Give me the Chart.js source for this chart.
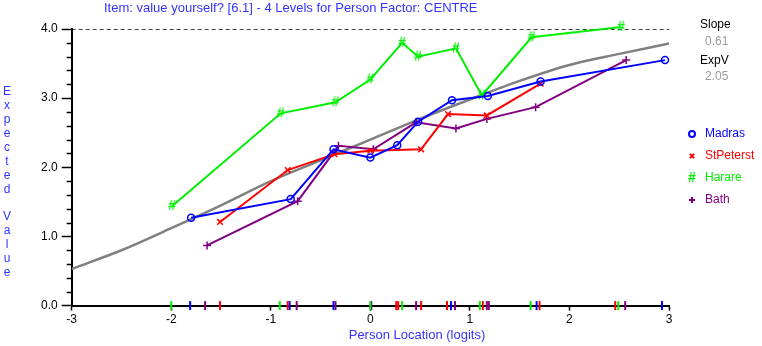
<!DOCTYPE html>
<html>
<head>
<meta charset="utf-8">
<script src="https://cdn.jsdelivr.net/npm/chart.js@4.4.0/dist/chart.umd.min.js"></script>
<style>
  html, body { margin: 0; padding: 0; background: #fff; }
</style>
</head>
<body>
<canvas id="iccChart" width="762" height="346"></canvas>
<script>
const titleText = "Item: value yourself? [6.1] - 4 Levels for Person Factor: CENTRE";
const slopeValue = "0.61";
const expValue = "2.05";
const xTicks = [-3, -2, -1, 0, 1, 2, 3];
const yTicks = [0, 1, 2, 3, 4];
const maxScore = 4;

// class interval means per group (location in logits, observed mean)
const madrasX = [-1.80, -0.80, -0.37, 0.00, 0.27, 0.48, 0.82, 1.18, 1.71, 2.96];
const madrasY = [1.27, 1.54, 2.26, 2.14, 2.32, 2.66, 2.97, 3.03, 3.24, 3.55];
const stpeteX = [-1.51, -0.83, -0.36, 0.00, 0.51, 0.78, 1.17, 1.71];
const stpeteY = [1.21, 1.96, 2.19, 2.24, 2.26, 2.77, 2.75, 3.21];
const harareX = [-1.99, -0.90, -0.35, 0.00, 0.32, 0.48, 0.86, 1.12, 1.62, 2.52];
const harareY = [1.44, 2.78, 2.94, 3.27, 3.80, 3.60, 3.72, 3.04, 3.88, 4.03];
const bathX = [-1.64, -0.73, -0.32, 0.03, 0.46, 0.86, 1.17, 1.66, 2.57];
const bathY = [0.87, 1.51, 2.31, 2.26, 2.65, 2.56, 2.70, 2.87, 3.55];

// expected value curve (grey)
const curveX = [-3, -2.5, -2, -1.5, -1, -0.5, 0, 0.5, 1, 1.5, 2, 2.5, 3];
const curveY = [0.53, 0.80, 1.12, 1.45, 1.80, 2.10, 2.40, 2.70, 2.98, 3.25, 3.48, 3.64, 3.79];

// rug marks along the x axis
const rugMadras = [-1.81, -0.81, -0.37, 0.81, 1.67, 2.93];
const rugStpete = [-1.51, -0.83, 0.26, 0.28, 0.51, 0.77, 1.13, 1.70, 2.46];
const rugHarare = [-2.00, -0.91, 0.00, 0.32, 1.10, 1.61, 2.49];
const rugBath = [-1.66, -0.74, -0.35, 0.01, 0.46, 0.85, 1.17, 1.19, 2.56];

const FONT = "Arial, 'Liberation Sans', sans-serif";
const BLUE = "#0000ff", RED = "#ff0000", GREEN = "#00ee00", PURPLE = "#800080";

function pts(xs, ys) {
  return xs.map((x, i) => ({ x: x, y: ys[i] }));
}
function rug(xs) {
  return xs.map(x => ({ x: x, y: 0 }));
}

// '#' marker for Harare, chart.js has no such pointStyle
function hashMark(color) {
  const c = document.createElement("canvas");
  c.width = 12;
  c.height = 14;
  const g = c.getContext("2d");
  g.fillStyle = color;
  g.font = "bold 14px " + FONT;
  g.textAlign = "center";
  g.textBaseline = "middle";
  g.fillText("#", 6, 7.5);
  return c;
}
const hashStyle = hashMark(GREEN);

function groupSet(label, data, color, style, radius, order) {
  return {
    label: label,
    data: data,
    borderColor: color,
    backgroundColor: "rgba(0,0,0,0)",
    borderWidth: 2,
    pointStyle: style,
    pointRadius: radius,
    pointBorderWidth: 1.5,
    pointBorderColor: color,
    tension: 0,
    clip: false,
    order: order,
    isGroup: true,
  };
}
function rugSet(xs, color) {
  return {
    data: rug(xs),
    showLine: false,
    pointStyle: "line",
    rotation: 90,
    pointRadius: 4.5,
    pointBorderWidth: 2,
    borderColor: color,
    backgroundColor: color,
    clip: false,
    order: 6,
  };
}

const datasets = [
  groupSet("Madras", pts(madrasX, madrasY), BLUE, "circle", 3.5, 1),
  groupSet("StPeterst", pts(stpeteX, stpeteY), RED, "crossRot", 4, 2),
  groupSet("Harare", pts(harareX, harareY), GREEN, hashStyle, 6, 3),
  groupSet("Bath", pts(bathX, bathY), PURPLE, "cross", 4, 4),
  {
    data: pts(curveX, curveY),
    borderColor: "#808080",
    borderWidth: 2.5,
    pointRadius: 0,
    cubicInterpolationMode: "monotone",
    order: 10,
  },
  {
    data: [{ x: xTicks[0], y: maxScore }, { x: xTicks[xTicks.length - 1], y: maxScore }],
    borderColor: "#000",
    borderWidth: 1.5,
    borderDash: [4, 3],
    pointRadius: 0,
    order: 11,
  },
  rugSet(rugStpete, RED),
  rugSet(rugHarare, GREEN),
  rugSet(rugBath, PURPLE),
  rugSet(rugMadras, BLUE),
];

// titles, stacked y label, slope box, legend and minor ticks
const textPlugin = {
  id: "iccText",
  afterDraw(chart) {
    const ctx = chart.ctx;
    const area = chart.chartArea;
    const yScale = chart.scales.y;
    ctx.save();

    ctx.strokeStyle = "#000";
    ctx.lineWidth = 1.5;
    for (let i = 0; i < yTicks.length - 1; i++) {
      for (let k = 1; k < 5; k++) {
        const py = Math.round(yScale.getPixelForValue(yTicks[i] + k * 0.2)) + 0.5;
        ctx.beginPath();
        ctx.moveTo(area.left - 5, py);
        ctx.lineTo(area.left, py);
        ctx.stroke();
      }
    }

    ctx.font = "13px " + FONT;
    ctx.textBaseline = "middle";
    ctx.textAlign = "left";
    ctx.fillStyle = "#3333ff";
    ctx.fillText(titleText, 104, 8);

    ctx.textAlign = "center";
    ctx.fillText("Person Location (logits)", 417, 335);

    ctx.font = "12px " + FONT;
    const letters = "Expected Value".split("");
    letters.forEach((ch, i) => {
      ctx.fillText(ch, 7, 92 + i * 13.9);
    });

    ctx.textAlign = "left";
    ctx.fillStyle = "#000";
    ctx.fillText("Slope", 700, 25);
    ctx.fillText("ExpV", 700, 61);
    ctx.fillStyle = "#999";
    ctx.fillText(slopeValue, 705, 42);
    ctx.fillText(expValue, 705, 77);

    // legend
    const groups = chart.data.datasets.filter(d => d.isGroup);
    groups.forEach((d, i) => {
      const ly = 134 + i * 22;
      ctx.fillStyle = d.pointStyle === "circle" ? "rgba(0,0,0,0)" : d.borderColor;
      ctx.strokeStyle = d.borderColor;
      ctx.lineWidth = 2;
      Chart.helpers.drawPoint(ctx, {
        pointStyle: d.pointStyle,
        radius: d.pointStyle === hashStyle ? 5 : 3,
        rotation: 0,
        borderWidth: 2,
      }, 692, ly);
      ctx.fillStyle = d.borderColor;
      ctx.fillText(d.label, 705, ly);
    });

    ctx.restore();
  },
};

new Chart(document.getElementById("iccChart"), {
  type: "line",
  data: { datasets: datasets },
  options: {
    responsive: false,
    animation: false,
    devicePixelRatio: 1,
    layout: { padding: { left: 37, right: 93, top: 29, bottom: 17 } },
    plugins: {
      legend: { display: false },
      title: { display: false },
      tooltip: { enabled: false },
    },
    scales: {
      x: {
        type: "linear",
        min: xTicks[0],
        max: xTicks[xTicks.length - 1],
        afterBuildTicks: axis => { axis.ticks = xTicks.map(v => ({ value: v })); },
        ticks: { color: "#000", font: { family: FONT, size: 12 }, padding: 2, maxRotation: 0 },
        grid: { drawOnChartArea: false, tickLength: 5, tickColor: "#000", tickWidth: 1.5 },
        border: { color: "#000", width: 2 },
      },
      y: {
        type: "linear",
        min: yTicks[0],
        max: yTicks[yTicks.length - 1],
        afterBuildTicks: axis => { axis.ticks = yTicks.map(v => ({ value: v })); },
        ticks: {
          color: "#000",
          font: { family: FONT, size: 12 },
          padding: 4,
          callback: v => v.toFixed(1),
        },
        grid: { drawOnChartArea: false, tickLength: 10, tickColor: "#000", tickWidth: 1.5 },
        border: { color: "#000", width: 2 },
      },
    },
  },
  plugins: [textPlugin],
});
</script>
</body>
</html>
